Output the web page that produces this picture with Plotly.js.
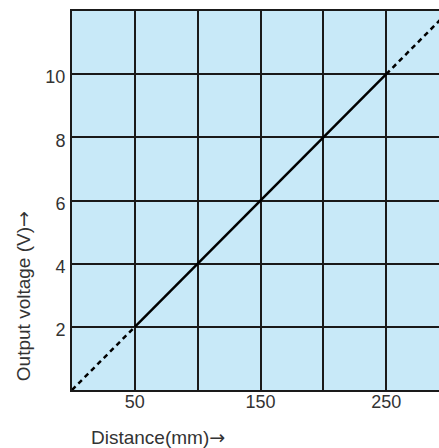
<!DOCTYPE html>
<html><head><meta charset="utf-8">
<script src="https://cdn.plot.ly/plotly-3.0.1.min.js"></script>
<style>html,body{margin:0;padding:0;background:#fff;overflow:hidden}#c{width:439px;height:448px}</style>
</head><body><div id="c"></div>
<script>
// Data
const solidX = [50, 100, 150, 200, 250];
const solidY = [2, 4, 6, 8, 10];
const lowX = [0, 50];
const lowY = [0, 2];
const highX = [250, 300];
const highY = [10, 12];
const xTickVals = [0, 50, 100, 150, 200, 250];
const xTickText = ['', '50', '', '150', '', '250'];
const yTickVals = [2, 4, 6, 8, 10];
const yTickText = ['2', '4', '6', '8', '10'];
const xTitle = 'Distance(mm)';
const yTitle = 'Output voltage (V)';
const arrow = '→';

const font = {family: 'Liberation Sans, Arial, Helvetica, sans-serif', size: 18, color: '#333'};
const tfont = {family: 'Liberation Sans, Arial, Helvetica, sans-serif', size: 19, color: '#333'};
const arrowHtml = '<span style="font-family:DejaVu Sans">' + arrow + '</span>';
const traces = [
  {x: lowX, y: lowY, mode: 'lines', line: {color: '#000', width: 2.5, dash: '5px,4px'}, hoverinfo: 'skip'},
  {x: highX, y: highY, mode: 'lines', line: {color: '#000', width: 2.5, dash: '5px,4px'}, hoverinfo: 'skip'},
  {x: solidX, y: solidY, mode: 'lines', line: {color: '#000', width: 2.5}, hoverinfo: 'skip'}
];
const layout = {
  width: 439, height: 448,
  margin: {l: 72, r: 0, t: 11, b: 58},
  paper_bgcolor: '#fff', plot_bgcolor: '#c8e9f8',
  showlegend: false, font: font,
  xaxis: {range: [0, 292], tickvals: xTickVals, ticktext: xTickText, showgrid: true,
    gridcolor: '#1a1a1a', gridwidth: 2, showline: true, linecolor: '#1a1a1a', linewidth: 2,
    mirror: true, zeroline: false, ticks: '', ticklen: 0, ticklabelstandoff: -6, tickfont: font, fixedrange: true},
  yaxis: {range: [0, 12], tickvals: yTickVals, ticktext: yTickText, showgrid: true,
    gridcolor: '#1a1a1a', gridwidth: 2, showline: true, linecolor: '#1a1a1a', linewidth: 2,
    zeroline: false, ticks: '', ticklen: 0, ticklabelshift: 3, ticklabelstandoff: 1, tickfont: font, fixedrange: true},
  annotations: [
    {text: xTitle + arrowHtml, xref: 'paper', yref: 'paper', x: 0.045, y: 0, xanchor: 'left', yanchor: 'middle',
      yshift: -47, showarrow: false, font: tfont},
    {text: yTitle + arrowHtml, xref: 'paper', yref: 'paper', x: 0, y: 0.018, xshift: -49, xanchor: 'center', yanchor: 'bottom',
      textangle: -90, showarrow: false, font: tfont}
  ]
};
Plotly.newPlot('c', traces, layout, {staticPlot: true, displayModeBar: false});
</script></body></html>
